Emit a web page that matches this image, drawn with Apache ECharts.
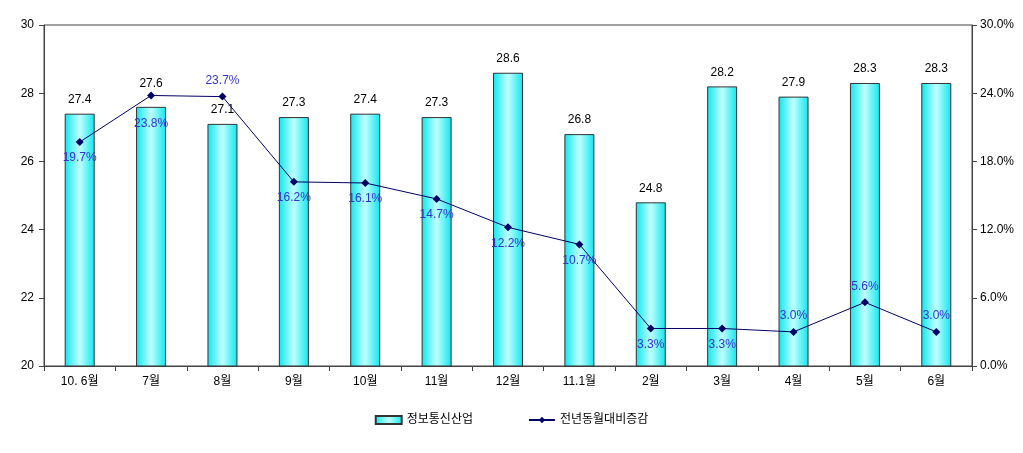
<!DOCTYPE html>
<html>
<head>
<meta charset="utf-8">
<script src="https://cdn.jsdelivr.net/npm/echarts@6/dist/echarts.min.js"></script>
<style>
  html, body { margin: 0; padding: 0; background: #fff; }
  #chart { width: 1023px; height: 453px; }
</style>
</head>
<body>
<div id="chart"></div>
<script>
// 월별 데이터
const months = ["10. 6월", "7월", "8월", "9월", "10월", "11월", "12월", "11.1월", "2월", "3월", "4월", "5월", "6월"];
const industry = [27.4, 27.6, 27.1, 27.3, 27.4, 27.3, 28.6, 26.8, 24.8, 28.2, 27.9, 28.3, 28.3];
const yoyRate = [19.7, 23.8, 23.7, 16.2, 16.1, 14.7, 12.2, 10.7, 3.3, 3.3, 3.0, 5.6, 3.0];
const leftTicks = [20, 30, 2];
const rightTicks = [0, 30, 6];
// 라벨 위치 (점 기준)
const rateLabelPos = ["bottom", "bottom", "top", "bottom", "bottom", "bottom", "bottom", "bottom", "bottom", "bottom", "top", "top", "top"];
// 겹치는 라벨 간격 조정
const barLabelGap = [8, 17, 8, 8, 8, 8, 8, 8, 8, 8, 8, 8, 8];
const rateLabelGap = [6, 18, 6, 6, 6, 6, 6, 6, 6, 6, 6, 6, 6];

const chart = echarts.init(document.getElementById("chart"));
const font = "Arial, 'Liberation Sans', 'Noto Sans CJK KR', sans-serif";

const option = {
  animation: false,
  textStyle: { fontFamily: font },
  grid: { left: 44, right: 51, top: 25, bottom: 87, show: true, borderColor: "#444", borderWidth: 1 },
  legend: {
    bottom: 22,
    itemGap: 55,
    itemWidth: 26,
    itemHeight: 8,
    textStyle: { fontSize: 12, color: "#000", fontFamily: font },
    data: [
      { name: "정보통신산업", icon: "rect" },
      { name: "전년동월대비증감" }
    ]
  },
  xAxis: {
    type: "category",
    data: months,
    boundaryGap: true,
    axisLine: { lineStyle: { color: "#444" } },
    axisTick: { show: true, inside: false, length: 5, lineStyle: { color: "#444" } },
    axisLabel: { color: "#000", fontSize: 12, margin: 10, interval: 0 }
  },
  yAxis: [
    {
      type: "value",
      min: leftTicks[0],
      max: leftTicks[1],
      interval: leftTicks[2],
      splitLine: { show: false },
      axisLine: { show: true, lineStyle: { color: "#444" } },
      axisTick: { show: true, length: 5, lineStyle: { color: "#444" } },
      axisLabel: { color: "#000", fontSize: 12, margin: 10 }
    },
    {
      type: "value",
      min: rightTicks[0],
      max: rightTicks[1],
      interval: rightTicks[2],
      position: "right",
      splitLine: { show: false },
      axisLine: { show: true, lineStyle: { color: "#444" } },
      axisTick: { show: true, length: 5, lineStyle: { color: "#444" } },
      axisLabel: { color: "#000", fontSize: 12, margin: 8, formatter: v => v.toFixed(1) + "%" }
    }
  ],
  series: [
    {
      name: "정보통신산업",
      type: "bar",
      yAxisIndex: 0,
      barWidth: 30,
      data: industry.map((v, i) => ({
        value: v,
        label: { distance: barLabelGap[i] }
      })),
      itemStyle: {
        color: new echarts.graphic.LinearGradient(0, 0, 1, 0, [
          { offset: 0, color: "#0FE6EE" },
          { offset: 0.5, color: "#BFFFFF" },
          { offset: 1, color: "#0FE6EE" }
        ]),
        borderColor: "#333",
        borderWidth: 1
      },
      label: {
        show: true,
        position: "top",
        color: "#000",
        fontSize: 12,
        formatter: p => p.value.toFixed(1)
      }
    },
    {
      name: "전년동월대비증감",
      type: "line",
      yAxisIndex: 1,
      symbol: "diamond",
      symbolSize: 8,
      lineStyle: { color: "#000066", width: 1 },
      itemStyle: { color: "#000066" },
      data: yoyRate.map((v, i) => ({
        value: v,
        label: { position: rateLabelPos[i], distance: rateLabelGap[i] }
      })),
      label: {
        show: true,
        color: "#3333CC",
        fontSize: 12,
        formatter: p => p.value.toFixed(1) + "%"
      }
    }
  ]
};

chart.setOption(option);
window.addEventListener("resize", function () {
  chart.resize();
});
</script>
</body>
</html>
